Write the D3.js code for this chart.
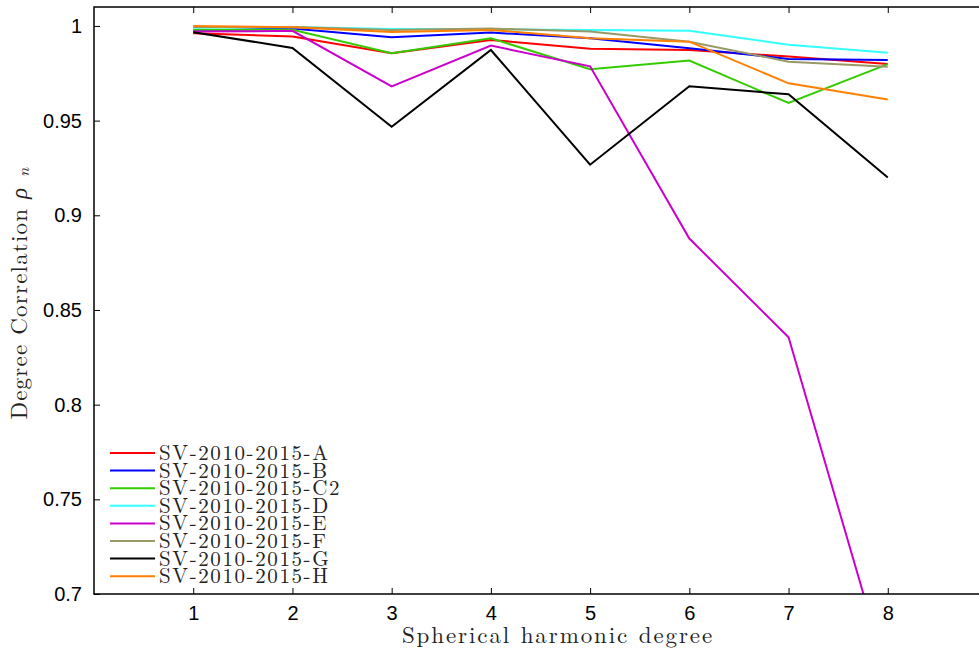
<!DOCTYPE html>
<html>
<head>
<meta charset="utf-8">
<script src="https://cdn.jsdelivr.net/npm/d3@7"></script>
<style>
  body { margin: 0; background: #fff; }
  svg { display: block; }
</style>
</head>
<body>
<div id="chart"></div>
<script>
// data
var degrees = [1, 2, 3, 4, 5, 6, 7, 8];
var seriesNames = ["SV-2010-2015-A", "SV-2010-2015-B", "SV-2010-2015-C2", "SV-2010-2015-D",
                   "SV-2010-2015-E", "SV-2010-2015-F", "SV-2010-2015-G", "SV-2010-2015-H"];
var seriesA  = [0.9961, 0.9944, 0.9856, 0.9926, 0.9880, 0.9873, 0.9838, 0.9799];
var seriesB  = [0.9974, 0.9987, 0.9940, 0.9965, 0.9935, 0.9882, 0.9826, 0.9820];
var seriesC2 = [0.9980, 0.9980, 0.9856, 0.9935, 0.9771, 0.9817, 0.9593, 0.9798];
var seriesD  = [0.9990, 0.9995, 0.9984, 0.9982, 0.9979, 0.9975, 0.9901, 0.9859];
var seriesE  = [0.9970, 0.9974, 0.9681, 0.9896, 0.9787, 0.8877, 0.8356, 0.6560];
var seriesF  = [0.9995, 0.9995, 0.9978, 0.9986, 0.9970, 0.9917, 0.9811, 0.9785];
var seriesG  = [0.9967, 0.9884, 0.9468, 0.9873, 0.9267, 0.9681, 0.9639, 0.9199];
var seriesH  = [1.0000, 0.9993, 0.9968, 0.9979, 0.9935, 0.9917, 0.9697, 0.9611];
var seriesColors = ["#ff0000", "#0000ff", "#33cc00", "#33ffff", "#cc00cc", "#999966", "#000000", "#ff8000"];
var yTicks = [0.7, 0.75, 0.8, 0.85, 0.9, 0.95, 1];
var yTickLabels = ["0.7", "0.75", "0.8", "0.85", "0.9", "0.95", "1"];

var allSeries = [seriesA, seriesB, seriesC2, seriesD, seriesE, seriesF, seriesG, seriesH];

// size
var W = 979, H = 651;
var plot = {left: 94, right: 987, top: 7, bottom: 594};

var svg = d3.select("#chart").append("svg").attr("width", W).attr("height", H);

var x = d3.scaleLinear().domain([0, 9]).range([plot.left, plot.right]);
var y = d3.scaleLinear().domain([0.7, 1.01]).range([plot.bottom, plot.top]);

svg.append("defs").append("clipPath").attr("id", "clip")
  .append("rect")
  .attr("x", plot.left).attr("y", plot.top)
  .attr("width", plot.right - plot.left).attr("height", plot.bottom - plot.top);

// lines
var line = d3.line()
  .x(function(d, i) { return x(degrees[i]); })
  .y(function(d) { return y(d); });

var lines = svg.append("g").attr("clip-path", "url(#clip)");
allSeries.forEach(function(s, i) {
  lines.append("path")
    .attr("d", line(s))
    .attr("fill", "none")
    .attr("stroke", seriesColors[i])
    .attr("stroke-width", 2);
});

// axes, matlab style box with inward ticks
var tickLen = 6;
var axStyle = function(g) {
  g.select(".domain").remove();
  g.selectAll("line").attr("stroke", "#000").attr("stroke-width", 1);
  g.selectAll("text").attr("font-family", "Liberation Sans, Arial, sans-serif")
    .attr("font-size", 20).attr("fill", "#000");
};

svg.append("g")
  .attr("transform", "translate(0," + plot.bottom + ")")
  .call(d3.axisBottom(x).tickValues(degrees).tickSize(-tickLen).tickPadding(12).tickFormat(d3.format("d")))
  .call(axStyle);

svg.append("g")
  .attr("transform", "translate(0," + plot.top + ")")
  .call(d3.axisTop(x).tickValues(degrees).tickSize(-tickLen).tickFormat(""))
  .call(axStyle);

svg.append("g")
  .attr("transform", "translate(" + plot.left + ",0)")
  .call(d3.axisLeft(y).tickValues(yTicks).tickSize(-tickLen).tickPadding(12)
    .tickFormat(function(d, i) { return yTickLabels[i]; }))
  .call(axStyle);

svg.append("g")
  .attr("transform", "translate(" + plot.right + ",0)")
  .call(d3.axisRight(y).tickValues(yTicks).tickSize(-tickLen).tickFormat(""))
  .call(axStyle);

svg.append("rect")
  .attr("x", plot.left).attr("y", plot.top)
  .attr("width", plot.right - plot.left).attr("height", plot.bottom - plot.top)
  .attr("fill", "none").attr("stroke", "#000").attr("stroke-width", 1.5);

// axis titles
var serif = "Latin Modern Roman, CMU Serif, Liberation Serif, DejaVu Serif, serif";
svg.append("text")
  .attr("x", 558).attr("y", 643)
  .attr("text-anchor", "middle")
  .attr("font-family", serif).attr("font-size", 23)
  .attr("letter-spacing", 1.9)
  .attr("fill", "#222")
  .text("Spherical harmonic degree");

var yl = svg.append("text")
  .attr("transform", "translate(27,293) rotate(-90)")
  .attr("text-anchor", "middle")
  .attr("font-family", serif).attr("font-size", 23)
  .attr("letter-spacing", 1.2)
  .attr("fill", "#222");
yl.append("tspan").text("Degree Correlation ");
yl.append("tspan").attr("font-style", "italic").text("\u03C1");
yl.append("tspan").attr("font-style", "italic").attr("font-size", 16).attr("dx", 10).attr("dy", 2).text("n");

// legend
var legend = svg.append("g");
seriesNames.forEach(function(name, i) {
  var ly = 453 + i * 17.6;
  legend.append("line")
    .attr("x1", 110).attr("x2", 155)
    .attr("y1", ly).attr("y2", ly)
    .attr("stroke", seriesColors[i]).attr("stroke-width", 2);
  legend.append("text")
    .attr("x", 159).attr("y", ly + 7)
    .attr("font-family", serif).attr("font-size", 21)
    .attr("letter-spacing", 1.6)
    .attr("fill", "#222")
    .text(name);
});
</script>
</body>
</html>
